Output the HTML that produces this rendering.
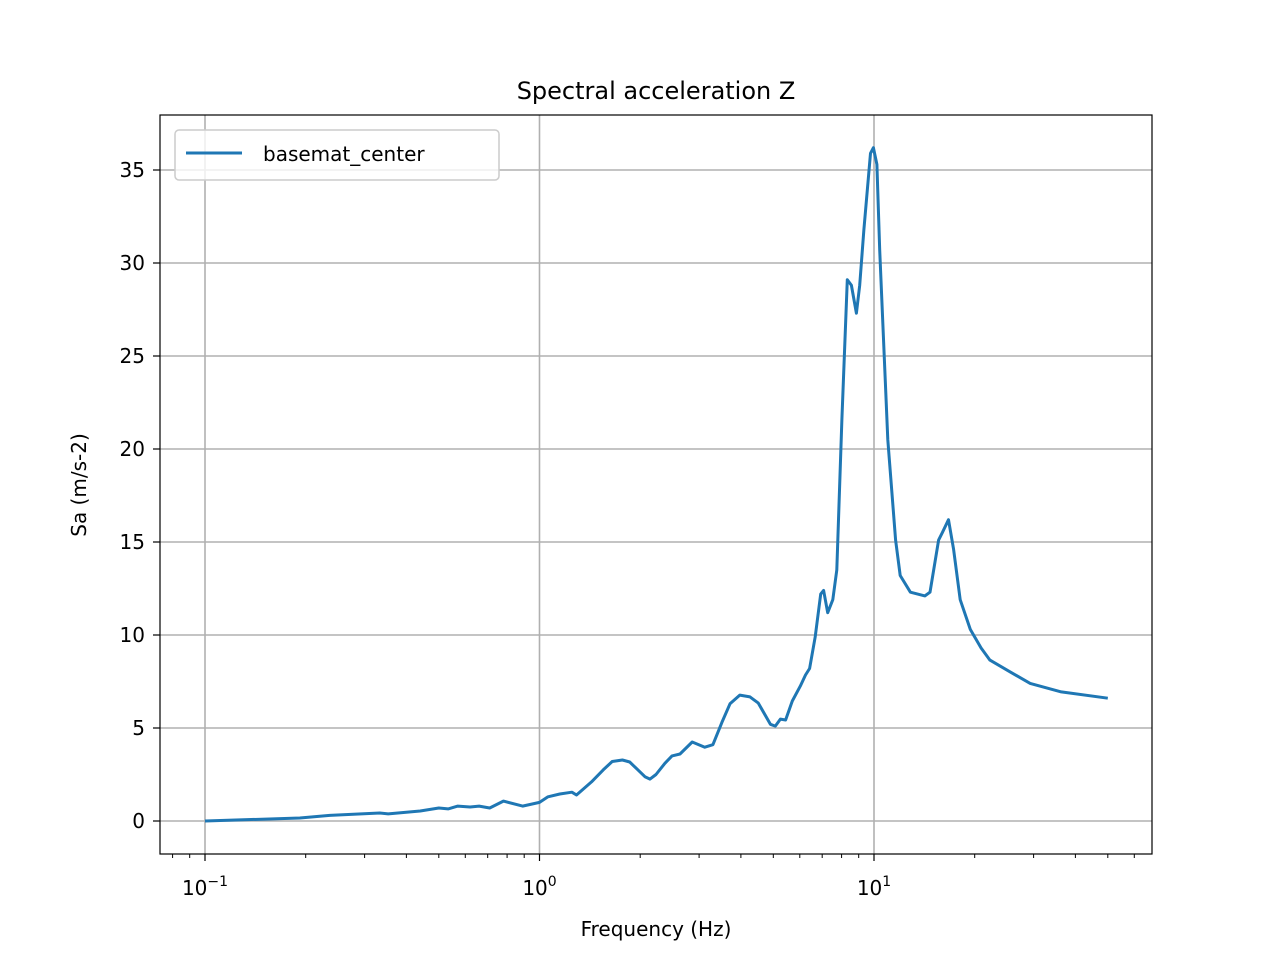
<!DOCTYPE html>
<html><head><meta charset="utf-8"><style>
html,body{margin:0;padding:0;background:#fff;}
svg{display:block;font-family:"DejaVu Sans","Liberation Sans",sans-serif;}
</style></head><body>
<svg id="chart" width="1280" height="960" viewBox="0 0 1280 960" xmlns="http://www.w3.org/2000/svg">
<rect x="0" y="0" width="1280" height="960" fill="#fff"/>
<g id="grid"></g>
<g id="ticks"></g>
<path id="series" fill="none" stroke="#1f77b4" stroke-width="3" stroke-linejoin="round"/>
<rect x="160" y="115" width="992" height="739" fill="none" stroke="#000" stroke-width="1.2"/>
<text x="656" y="99" font-size="24" text-anchor="middle">Spectral acceleration Z</text>
<text x="656" y="936" font-size="20" text-anchor="middle">Frequency (Hz)</text>
<text x="86" y="485" font-size="20" text-anchor="middle" transform="rotate(-90 86 485)">Sa (m/s-2)</text>
<g>
<rect x="175" y="130" width="324" height="50" rx="4" fill="#fff" fill-opacity="0.8" stroke="#ccc" stroke-width="1.5"/>
<line x1="186" y1="153" x2="242" y2="153" stroke="#1f77b4" stroke-width="3"/>
<text x="263" y="161" font-size="20">basemat_center</text>
</g>
</svg>
<script>
const freqs=[0.1,0.192,0.236,0.333,0.353,0.44,0.5,0.533,0.57,0.62,0.66,0.71,0.78,0.89,1.0,1.06,1.15,1.25,1.29,1.43,1.55,1.65,1.77,1.86,2.07,2.14,2.23,2.37,2.49,2.63,2.86,3.12,3.3,3.51,3.71,3.97,4.26,4.51,4.9,5.07,5.25,5.44,5.7,6.02,6.24,6.42,6.67,6.93,7.07,7.27,7.53,7.74,8.02,8.32,8.56,8.86,9.06,9.33,9.76,9.96,10.2,10.4,11.0,11.6,11.98,12.85,14.2,14.7,15.6,16.0,16.7,17.3,18.1,19.4,20.9,22.2,25.6,29.3,36.3,50];
const sa=[0,0.16,0.3,0.43,0.38,0.54,0.7,0.65,0.8,0.75,0.8,0.7,1.07,0.8,1.0,1.3,1.45,1.55,1.4,2.1,2.75,3.2,3.28,3.17,2.37,2.25,2.5,3.1,3.5,3.6,4.25,3.97,4.1,5.3,6.3,6.77,6.67,6.34,5.2,5.1,5.48,5.43,6.45,7.25,7.85,8.2,9.9,12.2,12.4,11.2,11.9,13.5,21.6,29.1,28.8,27.3,28.8,31.8,35.9,36.2,35.3,30.7,20.5,15.1,13.2,12.3,12.1,12.3,15.1,15.5,16.2,14.6,11.9,10.3,9.3,8.65,8.0,7.4,6.94,6.6];
const yTicks=[0,5,10,15,20,25,30,35];
const xDecades=[-1,0,1];
const NS="http://www.w3.org/2000/svg";
function xs(f){return 539.5+334.5*Math.log10(f);}
function ys(v){return 821-18.6*v;}
const grid=document.getElementById('grid'),ticks=document.getElementById('ticks');
function mk(tag,attrs,parent){const e=document.createElementNS(NS,tag);for(const k in attrs)e.setAttribute(k,attrs[k]);parent.appendChild(e);return e;}
yTicks.forEach(v=>{const y=ys(v);
 const g=mk('line',{x1:160,x2:1152,y1:y,y2:y,stroke:'#b0b0b0','stroke-width':1.6},grid);
 
 
 mk('line',{x1:153,x2:160,y1:y,y2:y,stroke:'#000','stroke-width':1.2},ticks);
 const t=mk('text',{x:145,y:y+7,'font-size':20,'text-anchor':'end'},ticks);
 t.textContent=v;
 
 
});
xDecades.forEach(d=>{const x=xs(Math.pow(10,d));
 const g=mk('line',{x1:x,x2:x,y1:115,y2:854,stroke:'#b0b0b0','stroke-width':1.6},grid);
 
 
 mk('line',{x1:x,x2:x,y1:854,y2:861,stroke:'#000','stroke-width':1.2},ticks);
 const t=mk('text',{x:x,y:895,'font-size':20,'text-anchor':'middle'},ticks);
 
 
 t.appendChild(document.createTextNode('10'));
 const s=mk('tspan',{dy:-9,'font-size':14},t);s.textContent=String(d).replace('-','\u2212');
});
for(let d=-2;d<=1;d++){for(let m=2;m<=9;m++){const f=m*Math.pow(10,d);const x=xs(f);if(x<160||x>1152)continue;
 mk('line',{x1:x,x2:x,y1:854,y2:858,stroke:'#000','stroke-width':1},ticks);}}
document.getElementById('series').setAttribute('d',freqs.map((f,i)=>(i?'L':'M')+xs(f).toFixed(1)+' '+ys(sa[i]).toFixed(1)).join(' '));
</script>
</body></html>
